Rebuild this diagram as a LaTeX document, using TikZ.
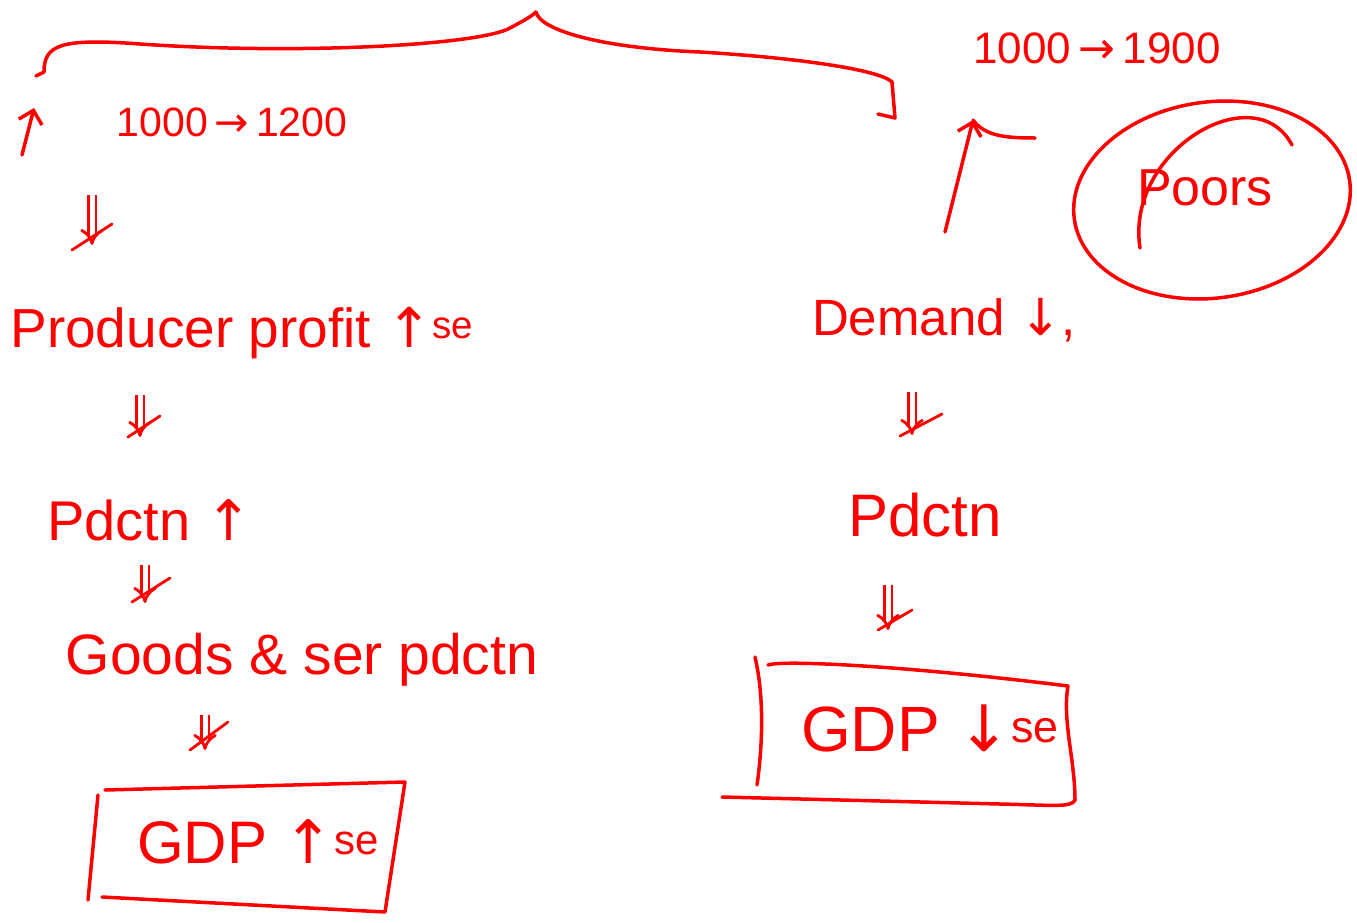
\documentclass[tikz,border=0pt]{standalone}
\usepackage{fontspec}
\setmainfont{Liberation Sans}
\newfontfamily\symfont{DejaVu Sans}
\usetikzlibrary{arrows.meta}
\definecolor{ink}{RGB}{255,0,0}
\newcommand\hwsize[1]{\fontsize{#1}{#1}\selectfont}
\begin{document}
\begin{tikzpicture}[x=1pt,y=-1pt,
  stroke/.style={draw=ink, line width=3.5pt, line cap=round, line join=round},
  lbl/.style={text=ink, inner sep=0pt, font=\hwsize{#1}},
  lbl/.default=40,
  dbl/.style={draw=ink, double=white, double distance=5pt, line width=2.8pt, -{Implies[length=8pt]}},
  tick/.style={draw=ink, line width=2.8pt, line cap=round},
  upar/.style={stroke, -{Straight Barb[length=12pt,width=24pt]}}]
\useasboundingbox (0,0) rectangle (1357,922);
\fill[white] (0,0) rectangle (1357,922);

% top brace
\coordinate (bl) at (44,72);
\coordinate (bt) at (536,12);
\coordinate (br) at (895,118);
\draw[stroke] (bl) .. controls (44,45) and (60,38) .. (140,44) .. controls (300,55) and (480,45) .. (510,28) .. controls (525,20) and (532,16) .. (bt);
\draw[stroke] (bt) .. controls (540,30) and (600,48) .. (700,52) .. controls (800,58) and (880,70) .. (892,82) -- (br);
\draw[stroke] (878,114) -- (br);
\draw[stroke] (36,76) -- (bl);

% left column
\coordinate (ua1) at (22,155);
\coordinate (ua2) at (34,108);
\draw[upar] (ua1) -- (ua2);
\node[lbl=41] (l1) at (232,122) {1000\,{\symfont→}\,1200};
\node[lbl=55] (pp) at (242,333) {Producer profit {\symfont↑}\textsuperscript{se}};
\node[lbl=56] (pd1) at (150,520) {Pdctn {\symfont↑}};
\node[lbl=57] (gs) at (302,660) {Goods \& ser pdctn};
\node[lbl=60] (g1) at (258,842) {GDP {\symfont↑}\textsuperscript{se}};

\coordinate (a1s) at (92,195); \coordinate (a1e) at (92,245);
\coordinate (a2s) at (140,395); \coordinate (a2e) at (140,437);
\coordinate (a3s) at (145,565); \coordinate (a3e) at (145,603);
\coordinate (a4s) at (205,715); \coordinate (a4e) at (205,750);
\draw[dbl] (a1s) -- (a1e);
\draw[tick] (72,250) -- (112,224);
\draw[dbl] (a2s) -- (a2e);
\draw[tick] (128,437) -- (160,416);
\draw[dbl] (a3s) -- (a3e);
\draw[tick] (132,602) -- (170,578);
\draw[dbl] (a4s) -- (a4e);
\draw[tick] (190,750) -- (228,722);

% box left
\coordinate (b1a) at (105,790);
\coordinate (b1b) at (405,782);
\coordinate (b1c) at (385,912);
\coordinate (b1d) at (102,897);
\draw[stroke] (b1a) -- (b1b) -- (b1c) -- (b1d);
\draw[stroke] (98,795) -- (88,900);

% right column
\node[lbl=44] (r1) at (1097,48) {1000\,{\symfont→}\,1900};
\coordinate (ub1) at (945,232);
\coordinate (ub2) at (973,120);
\draw[upar] (ub1) -- (ub2);
\draw[stroke] (ub2) .. controls (985,136) and (1005,138) .. (1035,138);

\coordinate (ell) at (1212,200);
\draw[stroke, rotate around={8:(ell)}] (ell) ellipse [x radius=139, y radius=98];
\draw[stroke] (1140,248) .. controls (1125,150) and (1255,75) .. (1292,145);
\node[lbl=52] (poors) at (1205,188) {Poors};

\node[lbl=51] (dm) at (944,320) {Demand {\symfont↓},};
\node[lbl=60] (pd2) at (925,515) {Pdctn};
\node[lbl=64] (g2) at (930,728) {GDP {\symfont↓}\textsuperscript{se}};

\coordinate (a5s) at (912,392); \coordinate (a5e) at (912,435);
\coordinate (a6s) at (888,585); \coordinate (a6e) at (888,630);
\draw[dbl] (a5s) -- (a5e);
\draw[tick] (900,436) -- (942,414);
\draw[dbl] (a6s) -- (a6e);
\draw[tick] (878,630) -- (912,610);

% box right
\coordinate (b2a) at (768,665);
\coordinate (b2b) at (1068,686);
\coordinate (b2c) at (1075,800);
\coordinate (b2d) at (722,797);
\draw[stroke] (b2a) .. controls (780,660) and (900,665) .. (b2b) .. controls (1062,720) and (1075,760) .. (b2c) .. controls (1072,808) and (1050,805) .. (1000,804) -- (b2d);
\draw[stroke] (755,657) .. controls (765,700) and (762,750) .. (757,785);
\end{tikzpicture}
\end{document}
